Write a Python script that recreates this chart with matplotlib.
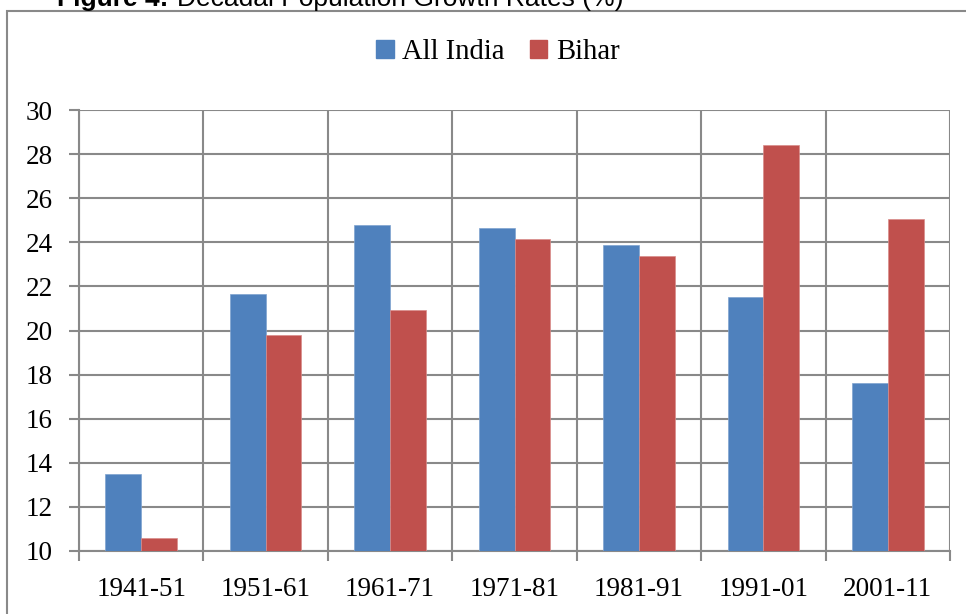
import matplotlib.pyplot as plt
from matplotlib.patches import Rectangle
import numpy as np

# Decadal growth rates (%)
periods = ["1941-51", "1951-61", "1961-71", "1971-81", "1981-91", "1991-01", "2001-11"]
all_india = [13.5, 21.64, 24.80, 24.66, 23.87, 21.54, 17.64]
bihar = [10.58, 19.79, 20.91, 24.16, 23.38, 28.43, 25.07]

blue = "#4F81BD"
red = "#C0504D"
grid_col = "#898989"

plt.rcParams['font.family'] = ['Liberation Serif', 'DejaVu Serif']

fig = plt.figure(figsize=(9.66, 6.14), dpi=100)
ax = fig.add_axes([79/966, 1-551/614, 871/966, 441/614])

x = np.arange(len(periods))
w = 0.288
ax.bar(x - w/2, [v - 10 for v in all_india], w, bottom=10, color=blue,
       edgecolor="#7fa3d0", linewidth=0.5, zorder=3)
ax.bar(x + w/2, [v - 10 for v in bihar], w, bottom=10, color=red,
       edgecolor="#d98c8a", linewidth=0.5, zorder=3)

ax.set_xlim(-0.5, len(periods) - 0.5)
ax.set_ylim(10, 30)
ax.set_yticks(np.arange(10, 31, 2))
ax.set_xticks(x)
ax.set_xticklabels(periods)
ax.set_xticks(np.arange(-0.5, len(periods), 1), minor=True)

ax.yaxis.grid(True, color=grid_col, linewidth=1.5, zorder=0)
ax.xaxis.grid(True, which='minor', color=grid_col, linewidth=1.5, zorder=0)
ax.set_axisbelow(True)

for s in ['top', 'right']:
    ax.spines[s].set_visible(False)
for s in ['left', 'bottom']:
    ax.spines[s].set_color(grid_col)
    ax.spines[s].set_linewidth(1.5)

ax.tick_params(axis='y', length=7, width=1.5, color=grid_col, pad=12, labelsize=19.5)
ax.tick_params(axis='x', which='major', length=0, pad=19, labelsize=19.5)
ax.tick_params(axis='x', which='minor', length=7, width=1.5, color=grid_col)

fig.legend(handles=[Rectangle((0, 0), 1, 1, color=blue), Rectangle((0, 0), 1, 1, color=red)],
           labels=["All India", "Bihar"], loc='center', bbox_to_anchor=(498/966, 1-52/614),
           ncol=2, frameon=False, fontsize=20.6, handlelength=0.6, handleheight=0.6,
           handletextpad=0.31, columnspacing=0.87)

# outer chart border
fig.patches.append(Rectangle((7/966, -0.01), 1.0, 1-11/614 + 0.01, transform=fig.transFigure,
                             fill=False, edgecolor=grid_col, linewidth=1.5))

fig.text(57/966, 1-6/614, "Figure 4:", family='Liberation Sans', weight='bold',
         fontsize=19, va='baseline')
fig.text(177/966, 1-6/614, "Decadal Population Growth Rates (%)", family='Liberation Sans',
         fontsize=19, va='baseline')

fig.savefig("out.png", dpi=100)
